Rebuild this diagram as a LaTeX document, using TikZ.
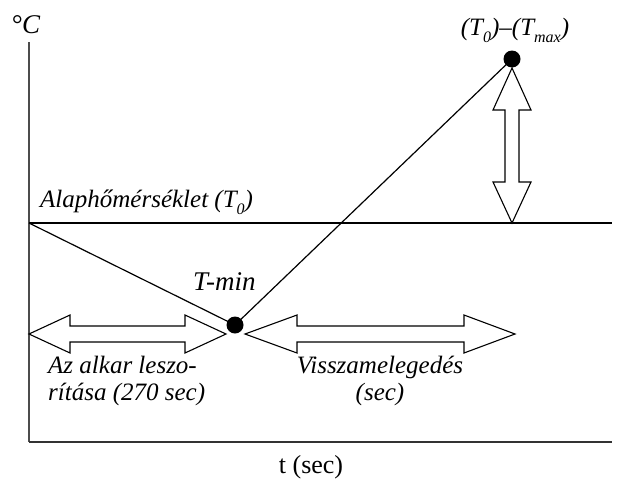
\documentclass[tikz,border=0pt]{standalone}
\usepackage{fontspec}
\setmainfont{Liberation Serif}
\newcommand\lowsub[1]{\raisebox{-0.28em}{\fontsize{16}{16}\selectfont #1}}
\begin{document}
\begin{tikzpicture}[x=1pt,y=-1pt,
  axisline/.style={draw=black!70,line width=2pt},
  plotline/.style={draw=black,line width=1.2pt},
  fatarrow/.style={draw=black,line width=1.1pt,fill=white,line join=miter},
  dotnode/.style={circle,fill=black,inner sep=0pt,minimum size=17pt},
  lbl/.style={inner sep=0pt,font=\fontsize{25}{27}\selectfont\itshape},
]
\useasboundingbox (0,0) rectangle (617,479);
% axes
\coordinate (ytop) at (29,42);
\coordinate (origin) at (29,442);
\coordinate (xend) at (612,442);
\draw[axisline] (ytop) -- (origin);
\draw[axisline,draw=black!80] (origin) -- (xend);
% baseline T0
\coordinate (b0) at (29,223);
\coordinate (b1) at (612,223);
\draw[plotline,line width=1.3pt] (b0) -- (b1);
% dots
\node[dotnode] (tmin) at (235,325) {};
\node[dotnode] (tmax) at (512,59) {};
\draw[plotline] (b0) -- (tmin.center);
\draw[plotline] (tmin.center) -- (tmax.center);
% vertical double arrow
\draw[fatarrow] (512,68) -- (531,110) -- (519,110) -- (519,182) -- (531,182) -- (512,223)
  -- (493,182) -- (505,182) -- (505,110) -- (493,110) -- cycle;
% left horizontal double arrow
\draw[fatarrow] (29,334) -- (70,315) -- (70,326) -- (185,326) -- (185,315) -- (226,334)
  -- (185,353) -- (185,342) -- (70,342) -- (70,353) -- cycle;
% right horizontal double arrow
\draw[fatarrow] (245,334) -- (297,315) -- (297,326) -- (464,326) -- (464,315) -- (515,334)
  -- (464,353) -- (464,342) -- (297,342) -- (297,353) -- cycle;
% labels
\node[lbl,anchor=base west,font=\fontsize{27}{27}\selectfont\itshape] (unit) at (11,33) {°C};
\node[lbl,anchor=base] (tmaxlbl) at (515,35) {(T\lowsub{0})–(T\lowsub{max})};
\node[lbl,anchor=base west] (t0lbl) at (40,207) {Alaphőmérséklet (T\lowsub{0})};
\node[lbl,anchor=base west,font=\fontsize{27}{27}\selectfont\itshape] (tminlbl) at (193,290) {T-min};
\node[lbl,anchor=base west,align=left] (leftlbl) at (48,400) {Az alkar leszo-\\rítása (270 sec)};
\node[lbl,anchor=base,align=center] (rightlbl) at (380,400) {Visszamelegedés\\(sec)};
\node[inner sep=0pt,anchor=base,font=\fontsize{26}{26}\selectfont] (xlbl) at (311,473) {t (sec)};
\end{tikzpicture}
\end{document}
